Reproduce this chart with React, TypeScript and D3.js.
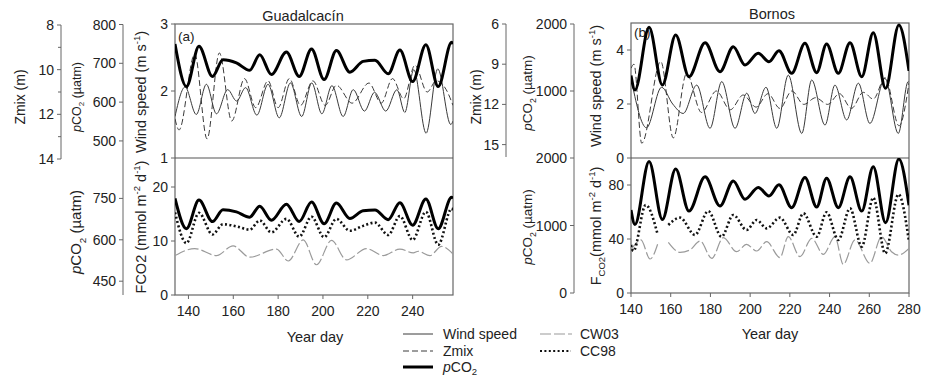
import React from 'react';
import * as d3 from 'd3';

type Pt = [number, number | null];

// ---------- tick values ----------
const guadDayTicks = [140, 160, 180, 200, 220, 240];
const bornDayTicks = [140, 160, 180, 200, 220, 240, 260, 280];
const guadWindTicks = [1, 2, 3];
const guadFluxTicks = [0, 10, 20];
const bornWindTicks = [0, 2, 4];
const bornFluxTicks = [0, 40, 80];
const guadZmixTicks = [8, 10, 12, 14];
const guadZmixMinor = [9, 11, 13];
const bornZmixTicks = [6, 9, 12, 15];
const guadPco2TopTicks = [500, 600, 700, 800];
const guadPco2BotTicks = [450, 600, 750];
const bornPco2TopTicks = [1000, 2000];
const bornPco2BotTicks = [0, 1000, 2000];

// ---------- Guadalcacín (a) ----------
const guadPco2: Pt[] = [
  [134, 750], [139.1, 640], [144.7, 744], [150.7, 666], [155.4, 709], [161.4, 701], [167.3, 682],
  [171.8, 722], [177, 671], [183.7, 729], [189.4, 666], [194.9, 737], [200.5, 658], [206, 733],
  [212, 677], [217.9, 705], [223.2, 708], [229.1, 673], [234.3, 734], [240, 653], [245.9, 748],
  [251.4, 640], [257.4, 754], [258, 750],
];
const guadWind: Pt[] = [
  [134, 1.62], [138.5, 2.06], [143.5, 1.65], [148, 2.1], [152.5, 1.66], [157.5, 2.02], [161.5, 1.85],
  [165.5, 2.05], [170.5, 1.64], [175.5, 2.1], [180.5, 1.6], [185.5, 2.12], [190.5, 1.62], [195, 2.12],
  [199.5, 1.66], [204, 2.08], [209, 1.62], [213.5, 2.02], [218.5, 1.7], [223, 1.98], [228, 1.7],
  [233, 2.02], [236.5, 1.68], [240.5, 2.32], [246, 1.37], [251.2, 2.33], [257, 1.5], [258, 1.55],
];
const guadZmix: Pt[] = [
  [134, 12.2], [135.8, 12.7], [142.8, 9.3], [148.3, 13.1], [153.8, 9.25], [159.3, 12.3], [165, 10.4],
  [170, 11.7], [175.5, 10.5], [180, 11.7], [185, 10.4], [190, 11.6], [195.5, 10.5], [201, 11.6],
  [206, 10.7], [213, 11.5], [220.5, 10.6], [226, 11.5], [231, 10.4], [236, 11.3], [241, 9.8],
  [246.5, 11.0], [250.5, 10.5], [255, 10.9], [258, 11.6],
];
const guadCC98: Pt[] = [
  [134, 15.3], [139.1, 9.6], [144.7, 15.2], [150.7, 11.2], [155.4, 13.1], [161.4, 12.7], [167.3, 12.1],
  [171.8, 13.8], [177, 11.6], [183.7, 14.1], [189.4, 10.8], [194.9, 14.5], [200.5, 10.7], [206, 14.1],
  [212, 11.9], [217.9, 12.8], [223.2, 13.4], [229.1, 11.1], [234.3, 14.6], [240, 10.2], [245.9, 15.4],
  [251.4, 9.3], [257.4, 16.0], [258, 15.6],
];
const guadCW03: Pt[] = [
  [134, 7.3], [142.8, 8.6], [152.5, 7.3], [159.9, 9.1], [167.3, 7.0], [179.3, 8.5], [184.5, 6.3],
  [191.2, 10.2], [197.1, 5.6], [203.8, 10.1], [210.5, 6.5], [219.4, 8.6], [226.9, 7.3], [234.3, 8.5],
  [240.3, 7.8], [242.5, 8.1], [247.7, 7.3], [252.9, 9.0], [258, 7.6],
];

// ---------- Bornos (b) ----------
const bornPco2: Pt[] = [
  [140, 1230], [142, 1015], [149.1, 1950], [155.8, 1090], [162.5, 1836], [169.2, 1213], [177.3, 1721],
  [184.8, 1288], [191.5, 1661], [197.4, 1388], [204.1, 1563], [209.5, 1438], [214.5, 1602],
  [220.9, 1264], [227.6, 1711], [233.5, 1274], [238.5, 1701], [244.4, 1264], [250.3, 1721],
  [256.2, 1213], [262, 1871], [268.2, 1040], [274.9, 1985], [280, 1300],
];
const bornWind: Pt[] = [
  [140, 2.95], [147.8, 1.12], [155.4, 2.62], [161, 2.0], [166.3, 1.65], [173.1, 2.7], [179.8, 1.1],
  [185.7, 2.83], [192.4, 1.1], [198.3, 2.4], [202.4, 1.65], [208, 2.62], [213.4, 1.1], [219.2, 3.07],
  [226, 0.91], [231, 2.89], [237.7, 1.22], [242.7, 2.7], [248.6, 1.41], [254.5, 2.77], [260.3, 1.28],
  [267.9, 2.95], [274.6, 0.91], [279.6, 2.83], [280, 2.8],
];
const bornZmix: Pt[] = [
  [140, 9.3], [141.5, 9.0], [145.4, 14.9], [155, 8.8], [161.3, 14.5], [168, 9.7], [175.5, 12.6],
  [183, 11.0], [190, 12.4], [196.5, 11.3], [203, 12.2], [209, 11.2], [215, 12.3], [221, 11.0],
  [227, 12.0], [233, 11.5], [239, 12.0], [245, 11.2], [251, 12.3], [257, 11.1], [262, 11.6],
  [268, 10.0], [275, 13.6], [280, 10.4],
];
const bornCC98: Pt[] = [
  [140, 35.6], [141.2, 31.1], [147.4, 65.2], [153.4, 43.5], [156, null], [158.8, 50.4], [164.7, 55.8],
  [172.2, 43], [178.9, 60.7], [185.6, 41.7], [191.5, 57.8], [198.2, 46.7], [203.3, 54.1], [208.3, 47.9],
  [215, 55.8], [221.7, 43], [226.8, 59], [233.5, 41.7], [238.5, 59.8], [244.4, 39.3], [250.3, 62.7],
  [256.2, 34.3], [262, 70.6], [268, 29.4], [274.7, 73.1], [280, 38],
];
const bornCW03: Pt[] = [
  [140, 31.9], [145, 39.3], [149.6, 25.2], [153.7, 37.5], [156, null], [158.8, 37.5], [164.7, 30.1],
  [169.7, 31.9], [174.8, 38.5], [180.7, 25.7], [186.5, 41], [193.2, 30.6], [198.2, 36], [203.3, 31.1],
  [208.3, 38], [215, 26.2], [219.2, 41.7], [225.1, 26.9], [231, 40.5], [236.9, 28.6], [242.7, 41.7],
  [246.9, 21.2], [252.8, 39.3], [260.3, 22], [266.2, 41.7], [271.2, 30.6], [274.6, 28.1], [280, 33.1],
];

const FONT = 'Arial, "Liberation Sans", Helvetica, sans-serif';
const AXC = '#666';
const TXT = '#222';

type Sc = d3.ScaleLinear<number, number>;

function mkPath(data: Pt[], x: Sc, y: Sc): string {
  return (
    d3
      .line<Pt>()
      .defined((d) => d[1] != null)
      .x((d) => x(d[0]))
      .y((d) => y(d[1] as number))
      .curve(d3.curveMonotoneX)(data) || ''
  );
}

function VTicks({ x, scale, ticks, minor = [], fs = 14, len = 4 }: { x: number; scale: Sc; ticks: number[]; minor?: number[]; fs?: number; len?: number }) {
  return (
    <g>
      {ticks.map((t) => (
        <g key={'t' + t}>
          <line x1={x - len} x2={x} y1={scale(t)} y2={scale(t)} stroke={AXC} strokeWidth={1} />
          <text x={x - 7} y={scale(t)} dy="0.36em" textAnchor="end" fontSize={fs} fill={TXT}>
            {t}
          </text>
        </g>
      ))}
      {minor.map((t) => (
        <line key={'m' + t} x1={x - 3} x2={x} y1={scale(t)} y2={scale(t)} stroke={AXC} strokeWidth={1} />
      ))}
    </g>
  );
}

function HTicks({ y, scale, ticks }: { y: number; scale: Sc; ticks: number[] }) {
  return (
    <g>
      {ticks.map((t) => (
        <g key={t}>
          <line x1={scale(t)} x2={scale(t)} y1={y} y2={y + 4} stroke={AXC} strokeWidth={1} />
          <text x={scale(t)} y={y + 21} textAnchor="middle" fontSize={14} fill={TXT}>
            {t}
          </text>
        </g>
      ))}
    </g>
  );
}

function RotLabel({ x, y, fs, children }: { x: number; y: number; fs: number; children: React.ReactNode }) {
  return (
    <text transform={`translate(${x},${y}) rotate(-90)`} textAnchor="middle" dy="0.36em" fontSize={fs} fill={TXT}>
      {children}
    </text>
  );
}

const PCO2Label = ({ fs }: { fs: number }) => (
  <>
    <tspan fontStyle="italic">p</tspan>CO<tspan fontSize={fs * 0.65} dy={fs * 0.3}>2</tspan>
    <tspan dy={-fs * 0.3}> (µatm)</tspan>
  </>
);

export default function App() {
  // Guadalcacín scales
  const xG = d3.scaleLinear().domain([134, 258]).range([175, 453]);
  const windG = d3.scaleLinear().domain([1, 3]).range([158, 24]);
  const zmixG = d3.scaleLinear().domain([8, 14]).range([25, 159]);
  const pTopG = d3.scaleLinear().domain([456, 800]).range([158, 24.5]);
  const fluxG = d3.scaleLinear().domain([0, 25]).range([295, 160]);
  const pBotG = d3.scaleLinear().domain([400, 900]).range([295, 157]);

  // Bornos scales
  const xB = d3.scaleLinear().domain([140, 280]).range([631, 909]);
  const windB = d3.scaleLinear().domain([0, 5]).range([158, 23]);
  const zmixB = d3.scaleLinear().domain([6, 16]).range([24, 158]);
  const pTopB = d3.scaleLinear().domain([0, 2000]).range([158, 24]);
  const fluxB = d3.scaleLinear().domain([0, 100]).range([293, 158]);
  const pBotB = d3.scaleLinear().domain([0, 2000]).range([293, 158]);

  const gTop = { x: 175, y: 24, w: 278, h: 134 };
  const gBot = { x: 175, y: 158, w: 278, h: 137 };
  const bTop = { x: 631, y: 23, w: 278, h: 135 };
  const bBot = { x: 631, y: 158, w: 278, h: 135 };

  const thin = { fill: 'none', stroke: '#3a3a3a', strokeWidth: 1 };
  const dash = { fill: 'none', stroke: '#3a3a3a', strokeWidth: 1, strokeDasharray: '6,3' };
  const thick = { fill: 'none', stroke: '#000', strokeWidth: 3 };
  const grey = { fill: 'none', stroke: '#9a9a9a', strokeWidth: 1.2, strokeDasharray: '11,3' };
  const dot = { fill: 'none', stroke: '#111', strokeWidth: 2.6, strokeDasharray: '2,2.4' };

  return (
    <svg
      width={927}
      height={379}
      style={{ position: 'absolute', left: 0, top: 0, background: '#fff' }}
      fontFamily={FONT}
    >
      <defs>
        <clipPath id="cgt"><rect x={gTop.x} y={gTop.y} width={gTop.w} height={gTop.h} /></clipPath>
        <clipPath id="cgb"><rect x={gBot.x} y={gBot.y} width={gBot.w} height={gBot.h} /></clipPath>
        <clipPath id="cbt"><rect x={bTop.x} y={bTop.y} width={bTop.w} height={bTop.h} /></clipPath>
        <clipPath id="cbb"><rect x={bBot.x} y={bBot.y} width={bBot.w} height={bBot.h} /></clipPath>
      </defs>

      {/* ======= Guadalcacín ======= */}
      <line x1={61} x2={61} y1={zmixG(8)} y2={zmixG(14)} stroke={AXC} />
      <VTicks x={61} scale={zmixG} ticks={guadZmixTicks} minor={guadZmixMinor} />
      <RotLabel x={20} y={97} fs={14}>Zmix (m)</RotLabel>

      <line x1={123} x2={123} y1={pTopG(800)} y2={pBotG(400)} stroke={AXC} />
      <VTicks x={123} scale={pTopG} ticks={guadPco2TopTicks} />
      <VTicks x={123} scale={pBotG} ticks={guadPco2BotTicks} />
      <RotLabel x={76} y={97} fs={12.5}><PCO2Label fs={12.5} /></RotLabel>
      <RotLabel x={76} y={232} fs={15}><PCO2Label fs={15} /></RotLabel>

      <RotLabel x={141} y={92} fs={14.5}>
        Wind speed (m s<tspan fontSize={9.5} dy={-6}>-1</tspan><tspan dy={6}>)</tspan>
      </RotLabel>
      <RotLabel x={141} y={227} fs={14.5}>
        FCO2 (mmol m<tspan fontSize={9.5} dy={-6}>-2</tspan><tspan dy={6}> d</tspan>
        <tspan fontSize={9.5} dy={-6}>-1</tspan><tspan dy={6}>)</tspan>
      </RotLabel>

      <rect x={gTop.x} y={gTop.y} width={gTop.w} height={gTop.h + gBot.h} fill="none" stroke={AXC} strokeWidth={1.2} />
      <line x1={gTop.x} x2={gTop.x + gTop.w} y1={158} y2={158} stroke="#555" strokeWidth={1.2} />
      <VTicks x={gTop.x} scale={windG} ticks={guadWindTicks} />
      <VTicks x={gTop.x} scale={fluxG} ticks={guadFluxTicks} />
      <HTicks y={295} scale={xG} ticks={guadDayTicks} />
      <text x={303} y={21} textAnchor="middle" fontSize={14.5} fill={TXT}>Guadalcacín</text>
      <text x={178} y={41} fontSize={13.5} fill={TXT}>(a)</text>
      <text x={315} y={342} textAnchor="middle" fontSize={14.5} fill={TXT}>Year day</text>

      <g clipPath="url(#cgt)">
        <path d={mkPath(guadWind, xG, windG)} {...thin} />
        <path d={mkPath(guadZmix, xG, zmixG)} {...dash} />
        <path d={mkPath(guadPco2, xG, pTopG)} {...thick} />
      </g>
      <g clipPath="url(#cgb)">
        <path d={mkPath(guadCW03, xG, fluxG)} {...grey} />
        <path d={mkPath(guadCC98, xG, fluxG)} {...dot} />
        <path d={mkPath(guadPco2, xG, pBotG)} {...thick} />
      </g>

      {/* ======= Bornos ======= */}
      <line x1={506} x2={506} y1={zmixB(6)} y2={zmixB(16) - 1} stroke={AXC} />
      <VTicks x={506} scale={zmixB} ticks={bornZmixTicks} />
      <RotLabel x={476} y={97} fs={14}>Zmix (m)</RotLabel>

      <line x1={574} x2={574} y1={pTopB(2000)} y2={pBotB(0)} stroke={AXC} />
      <VTicks x={574} scale={pTopB} ticks={bornPco2TopTicks} />
      <VTicks x={574} scale={pBotB} ticks={bornPco2BotTicks} />
      <RotLabel x={527} y={93} fs={13.5}><PCO2Label fs={13.5} /></RotLabel>
      <RotLabel x={527} y={227} fs={13.5}><PCO2Label fs={13.5} /></RotLabel>

      <RotLabel x={596} y={86} fs={14.5}>
        Wind speed (m s<tspan fontSize={9.5} dy={-6}>-1</tspan><tspan dy={6}>)</tspan>
      </RotLabel>
      <RotLabel x={596} y={226} fs={14.5}>
        F<tspan fontSize={9.5} dy={4}>CO2</tspan><tspan dy={-4}>(mmol m</tspan>
        <tspan fontSize={9.5} dy={-6}>-2</tspan><tspan dy={6}> d</tspan>
        <tspan fontSize={9.5} dy={-6}>-1</tspan><tspan dy={6}>)</tspan>
      </RotLabel>

      <rect x={bTop.x} y={bTop.y} width={bTop.w} height={bTop.h + bBot.h} fill="none" stroke={AXC} strokeWidth={1.2} />
      <line x1={bTop.x} x2={bTop.x + bTop.w} y1={158} y2={158} stroke="#555" strokeWidth={1.2} />
      <VTicks x={bTop.x} scale={windB} ticks={bornWindTicks} />
      <VTicks x={bTop.x} scale={fluxB} ticks={bornFluxTicks} />
      <HTicks y={293} scale={xB} ticks={bornDayTicks} />
      <text x={772} y={19} textAnchor="middle" fontSize={14.5} fill={TXT}>Bornos</text>
      <text x={634} y={37} fontSize={13.5} fill={TXT}>(b)</text>
      <text x={770} y={339} textAnchor="middle" fontSize={14.5} fill={TXT}>Year day</text>

      <g clipPath="url(#cbt)">
        <path d={mkPath(bornWind, xB, windB)} {...thin} />
        <path d={mkPath(bornZmix, xB, zmixB)} {...dash} />
        <path d={mkPath(bornPco2, xB, pTopB)} {...thick} />
      </g>
      <g clipPath="url(#cbb)">
        <path d={mkPath(bornCW03, xB, fluxB)} {...grey} />
        <path d={mkPath(bornCC98, xB, fluxB)} {...dot} />
        <path d={mkPath(bornPco2, xB, pBotB)} {...thick} />
      </g>

      {/* ======= Legend ======= */}
      <g fontSize={14} fill={TXT}>
        <line x1={403} x2={433} y1={334} y2={334} {...thin} />
        <text x={443} y={339}>Wind speed</text>
        <line x1={403} x2={433} y1={351} y2={351} {...dash} />
        <text x={443} y={356}>Zmix</text>
        <line x1={403} x2={433} y1={367} y2={367} {...thick} />
        <text x={443} y={372}>
          <tspan fontStyle="italic">p</tspan>CO<tspan fontSize={9.5} dy={3}>2</tspan>
        </text>
        <line x1={540} x2={572} y1={334} y2={334} {...grey} />
        <text x={580} y={339}>CW03</text>
        <line x1={540} x2={571} y1={351} y2={351} {...dot} strokeWidth={2} />
        <text x={580} y={356}>CC98</text>
      </g>
    </svg>
  );
}
